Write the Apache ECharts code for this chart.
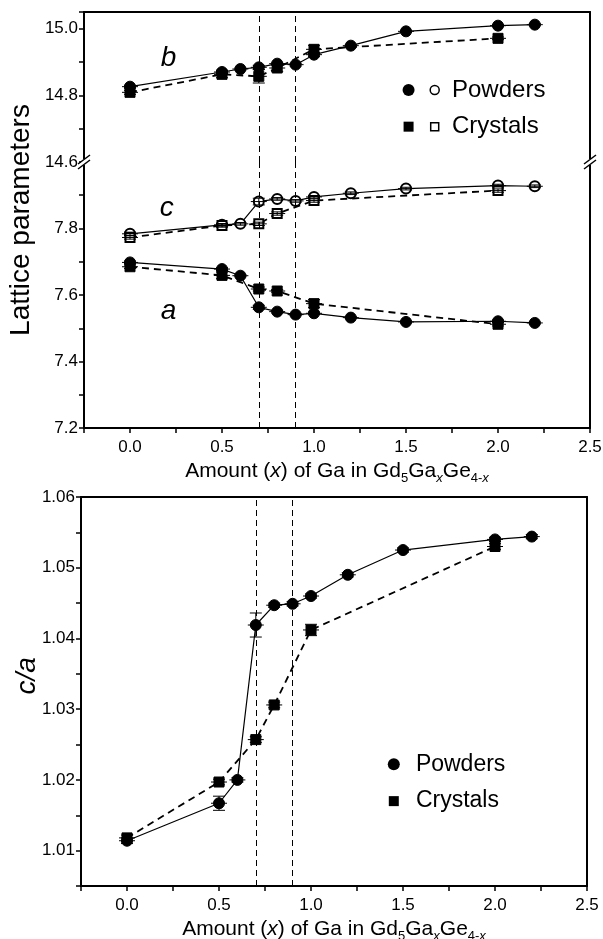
<!DOCTYPE html>
<html>
<head>
<meta charset="utf-8">
<script src="https://cdn.jsdelivr.net/npm/echarts@6/dist/echarts.min.js"></script>
<style>
  html, body { margin: 0; padding: 0; background: #fff; }
  #chart { width: 603px; height: 939px; }
</style>
</head>
<body>
<div id="chart"></div>
<script>
// x values (amount of Ga)
var xPowder = [0, 0.5, 0.6, 0.7, 0.8, 0.9, 1.0, 1.2, 1.5, 2.0, 2.2];
var xCrystal = [0, 0.5, 0.7, 0.8, 1.0, 2.0];

// lattice parameter b
var bPowder = [14.826, 14.870, 14.879, 14.884, 14.895, 14.892, 14.922, 14.949, 14.992, 15.009, 15.012];
var bPowderErr = [0.004, 0.004, 0.003, 0.006, 0.004, 0.004, 0.006, 0.003, 0.003, 0.003, 0.003];
var bCrystal = [14.809, 14.863, 14.857, 14.882, 14.938, 14.971];
var bCrystalErr = [0.006, 0.010, 0.020, 0.010, 0.012, 0.004];

// lattice parameter c
var cPowder = [7.784, 7.811, 7.814, 7.881, 7.889, 7.883, 7.895, 7.906, 7.920, 7.929, 7.927];
var cPowderErr = [0.005, 0.004, 0.004, 0.010, 0.004, 0.004, 0.004, 0.004, 0.004, 0.004, 0.004];
var cCrystal = [7.773, 7.809, 7.814, 7.845, 7.884, 7.914];
var cCrystalErr = [0.005, 0.005, 0.005, 0.005, 0.005, 0.005];

// lattice parameter a
var aPowder = [7.698, 7.678, 7.658, 7.563, 7.550, 7.541, 7.545, 7.532, 7.519, 7.521, 7.516];
var aPowderErr = [0.004, 0.004, 0.003, 0.006, 0.004, 0.003, 0.004, 0.003, 0.003, 0.003, 0.003];
var aCrystal = [7.685, 7.659, 7.618, 7.612, 7.574, 7.512];
var aCrystalErr = [0.005, 0.010, 0.006, 0.004, 0.012, 0.005];

// c/a ratio
var caPowder = [1.0114, 1.0167, 1.0200, 1.0419, 1.0447, 1.0449, 1.0460, 1.0490, 1.0525, 1.0540, 1.0544];
var caPowderErr = [0.0004, 0.0010, 0.0003, 0.0017, 0.0003, 0.0003, 0.0003, 0.0003, 0.0003, 0.0003, 0.0003];
var caCrystal = [1.0118, 1.0197, 1.0257, 1.0306, 1.0412, 1.0530];
var caCrystalErr = [0.0004, 0.0004, 0.0004, 0.0004, 0.0008, 0.0004];

// transition boundaries
var boundaries = [0.7, 0.9];

var FONT = "'Liberation Sans', Arial, sans-serif";
var TOP_LEFT = 84, TOP_RIGHT = 13;
var TOP_Y = 12, SPLIT_Y = 162, TOP_AXIS_Y = 428;
var BOT_Y = 497, BOT_AXIS_Y = 886;

function pairs(xs, ys) {
    return xs.map(function (x, i) { return [x, ys[i]]; });
}
function triples(xs, ys, es) {
    return xs.map(function (x, i) { return [x, ys[i], es[i]]; });
}

// error bars: vertical bar with caps plus short horizontal bar
function renderErr(params, api) {
    var x = api.value(0), y = api.value(1), e = api.value(2);
    var top = api.coord([x, y + e]);
    var bot = api.coord([x, y - e]);
    var mid = api.coord([x, y]);
    var cw = 6, hw = 8;
    var st = { stroke: '#000', lineWidth: 1 };
    return {
        type: 'group',
        children: [
            { type: 'line', shape: { x1: top[0], y1: top[1], x2: bot[0], y2: bot[1] }, style: st },
            { type: 'line', shape: { x1: top[0] - cw, y1: top[1], x2: top[0] + cw, y2: top[1] }, style: st },
            { type: 'line', shape: { x1: bot[0] - cw, y1: bot[1], x2: bot[0] + cw, y2: bot[1] }, style: st },
            { type: 'line', shape: { x1: mid[0] - hw, y1: mid[1], x2: mid[0] + hw, y2: mid[1] }, style: st }
        ]
    };
}

function errSeries(xi, yi, data) {
    return {
        type: 'custom', xAxisIndex: xi, yAxisIndex: yi, z: 5,
        renderItem: renderErr, data: data, silent: true, clip: false
    };
}

function lineSeries(xi, yi, data, symbol, size, dashed) {
    return {
        type: 'line', xAxisIndex: xi, yAxisIndex: yi, data: data,
        symbol: symbol, symbolSize: size, showAllSymbol: true,
        lineStyle: { color: '#000', width: dashed ? 1.8 : 1.2, type: dashed ? [7, 5] : 'solid' },
        itemStyle: { color: '#000', borderColor: '#000', borderWidth: 1 },
        z: 3, silent: true, animation: false
    };
}

function boundarySeries(xi, yi) {
    return {
        type: 'line', xAxisIndex: xi, yAxisIndex: yi, data: [], silent: true,
        markLine: {
            symbol: 'none', silent: true, animation: false,
            label: { show: false },
            lineStyle: { color: '#000', width: 1, type: [6, 4] },
            data: boundaries.map(function (v) { return { xAxis: v }; })
        }
    };
}

var tickLabel = { color: '#000', fontSize: 17, fontFamily: FONT };
var xName = '{n|Amount (}{i|x}{n|) of Ga in Gd}{s|5}{n|Ga}{si|x}{n|Ge}{s|4-}{si|x}';
var xNameStyle = {
    rich: {
        n: { fontSize: 21, fontFamily: FONT, color: '#000', lineHeight: 28, verticalAlign: 'middle' },
        i: { fontSize: 21, fontFamily: FONT, fontStyle: 'italic', color: '#000', lineHeight: 28, verticalAlign: 'middle' },
        s: { fontSize: 13, fontFamily: FONT, color: '#000', lineHeight: 12, verticalAlign: 'bottom' },
        si: { fontSize: 13, fontFamily: FONT, fontStyle: 'italic', color: '#000', lineHeight: 12, verticalAlign: 'bottom' }
    }
};

function xAxisLabelled(gi) {
    return {
        type: 'value', gridIndex: gi, position: 'bottom', min: -0.25, max: 2.5, interval: 0.25,
        axisLine: { onZero: false, lineStyle: { color: '#000', width: 2 } },
        axisTick: { show: true, length: 5, lineStyle: { color: '#000', width: 1.5 } },
        axisLabel: Object.assign({
            showMinLabel: true, showMaxLabel: true, hideOverlap: false, margin: 11,
            formatter: function (v) {
                var k = v / 0.5;
                return Math.abs(k - Math.round(k)) < 1e-6 ? v.toFixed(1) : '';
            }
        }, tickLabel),
        splitLine: { show: false },
        name: xName, nameLocation: 'middle', nameGap: 29, nameTextStyle: xNameStyle
    };
}
function xAxisFrame(gi) {
    return {
        type: 'value', gridIndex: gi, position: 'top', min: -0.25, max: 2.5,
        axisLine: { onZero: false, lineStyle: { color: '#000', width: 2 } },
        axisTick: { show: false }, axisLabel: { show: false }, splitLine: { show: false }
    };
}
function yAxisLeft(gi, min, max, interval, step, minor, fmt) {
    return {
        type: 'value', gridIndex: gi, position: 'left', min: min, max: max, interval: interval,
        axisLine: { onZero: false, lineStyle: { color: '#000', width: 2 } },
        axisTick: { show: true, length: 5, lineStyle: { color: '#000', width: 1.5 } },
        minorTick: { show: minor, splitNumber: 2, length: 5, lineStyle: { color: '#000', width: 1.5 } },
        axisLabel: Object.assign({
            hideOverlap: false, margin: 6,
            formatter: function (v) {
                var k = v / step;
                return Math.abs(k - Math.round(k)) < 1e-6 ? fmt(v) : '';
            }
        }, tickLabel),
        splitLine: { show: false }
    };
}
function yAxisRight(gi, min, max) {
    return {
        type: 'value', gridIndex: gi, position: 'right', min: min, max: max,
        axisLine: { onZero: false, lineStyle: { color: '#000', width: 2 } },
        axisTick: { show: false }, axisLabel: { show: false }, splitLine: { show: false }
    };
}

var chart = echarts.init(document.getElementById('chart'), null, { renderer: 'canvas' });

chart.setOption({
    animation: false,
    backgroundColor: '#fff',
    grid: [
        { left: TOP_LEFT, right: TOP_RIGHT, top: TOP_Y, height: SPLIT_Y - TOP_Y, outerBoundsMode: 'none' },
        { left: TOP_LEFT, right: TOP_RIGHT, top: SPLIT_Y, height: TOP_AXIS_Y - SPLIT_Y, outerBoundsMode: 'none' },
        { left: 81, right: 16, top: BOT_Y, height: BOT_AXIS_Y - BOT_Y, outerBoundsMode: 'none' }
    ],
    xAxis: [
        xAxisFrame(0),
        xAxisLabelled(1),
        xAxisLabelled(2),
        xAxisFrame(2)
    ],
    yAxis: [
        yAxisLeft(0, 14.6, 15.05, 0.2, 0.2, true, function (v) { return v.toFixed(1); }),
        yAxisRight(0, 14.6, 15.05),
        yAxisLeft(1, 7.2, 8.0, 0.2, 0.2, true, function (v) { return v > 7.95 ? '' : v.toFixed(1); }),
        yAxisRight(1, 7.2, 8.0),
        yAxisLeft(2, 1.005, 1.06, 0.005, 0.01, false, function (v) { return v.toFixed(2); }),
        yAxisRight(2, 1.005, 1.06)
    ],
    series: [
        boundarySeries(0, 0),
        boundarySeries(1, 2),
        boundarySeries(2, 4),

        lineSeries(0, 0, pairs(xPowder, bPowder), 'circle', 11, false),
        lineSeries(0, 0, pairs(xCrystal, bCrystal), 'rect', 10, true),
        errSeries(0, 0, triples(xPowder, bPowder, bPowderErr)),
        errSeries(0, 0, triples(xCrystal, bCrystal, bCrystalErr)),

        lineSeries(1, 2, pairs(xPowder, cPowder), 'emptyCircle', 10, false),
        lineSeries(1, 2, pairs(xCrystal, cCrystal), 'emptyRect', 9, true),
        errSeries(1, 2, triples(xPowder, cPowder, cPowderErr)),
        errSeries(1, 2, triples(xCrystal, cCrystal, cCrystalErr)),

        lineSeries(1, 2, pairs(xPowder, aPowder), 'circle', 11, false),
        lineSeries(1, 2, pairs(xCrystal, aCrystal), 'rect', 10, true),
        errSeries(1, 2, triples(xPowder, aPowder, aPowderErr)),
        errSeries(1, 2, triples(xCrystal, aCrystal, aCrystalErr)),

        lineSeries(2, 4, pairs(xPowder, caPowder), 'circle', 11, false),
        lineSeries(2, 4, pairs(xCrystal, caCrystal), 'rect', 10, true),
        errSeries(2, 4, triples(xPowder, caPowder, caPowderErr)),
        errSeries(2, 4, triples(xCrystal, caCrystal, caCrystalErr))
    ]
});

// annotations placed in data coordinates
function px(gi, pt) { return chart.convertToPixel({ gridIndex: gi }, pt); }

var g = [];
function italicLabel(gi, pt, txt) {
    var p = px(gi, pt);
    g.push({ type: 'text', x: p[0], y: p[1], z: 10,
        style: { text: txt, font: 'italic 28px ' + FONT, fill: '#000', align: 'center', verticalAlign: 'middle' } });
}
italicLabel(0, [0.21, 14.91], 'b');
italicLabel(1, [0.2, 7.862], 'c');
italicLabel(1, [0.21, 7.55], 'a');

function legendText(p, txt, size) {
    g.push({ type: 'text', x: p[0], y: p[1], z: 10,
        style: { text: txt, font: size + 'px ' + FONT, fill: '#000', align: 'left', verticalAlign: 'middle' } });
}
// top panel legend
var lp1 = px(0, [1.514, 14.816]), lp2 = px(0, [1.656, 14.816]), lp3 = px(0, [1.75, 14.816]);
g.push({ type: 'circle', shape: { cx: lp1[0], cy: lp1[1], r: 6 }, style: { fill: '#000' }, z: 10 });
g.push({ type: 'circle', shape: { cx: lp2[0], cy: lp2[1], r: 4.5 }, style: { fill: '#fff', stroke: '#000', lineWidth: 1.5 }, z: 10 });
legendText(lp3, 'Powders', 24);
var lc1 = px(0, [1.514, 14.706]), lc2 = px(0, [1.656, 14.706]), lc3 = px(0, [1.75, 14.706]);
g.push({ type: 'rect', shape: { x: lc1[0] - 5, y: lc1[1] - 5, width: 10, height: 10 }, style: { fill: '#000' }, z: 10 });
g.push({ type: 'rect', shape: { x: lc2[0] - 4, y: lc2[1] - 4, width: 8, height: 8 }, style: { fill: '#fff', stroke: '#000', lineWidth: 1.5 }, z: 10 });
legendText(lc3, 'Crystals', 24);

// bottom panel legend
var bp1 = px(2, [1.45, 1.0222]), bp2 = px(2, [1.57, 1.0222]);
g.push({ type: 'circle', shape: { cx: bp1[0], cy: bp1[1], r: 6 }, style: { fill: '#000' }, z: 10 });
legendText(bp2, 'Powders', 23);
var bc1 = px(2, [1.45, 1.0170]), bc2 = px(2, [1.57, 1.0170]);
g.push({ type: 'rect', shape: { x: bc1[0] - 5, y: bc1[1] - 5, width: 10, height: 10 }, style: { fill: '#000' }, z: 10 });
legendText(bc2, 'Crystals', 23);

// axis titles
g.push({ type: 'text', x: 21, y: (TOP_Y + TOP_AXIS_Y) / 2, rotation: Math.PI / 2, z: 10,
    style: { text: 'Lattice parameters', font: '28px ' + FONT, fill: '#000', align: 'center', verticalAlign: 'middle' } });
var caPos = px(2, [0, 1.0347]);
g.push({ type: 'text', x: 27, y: caPos[1], rotation: Math.PI / 2, z: 10,
    style: { text: 'c/a', font: 'italic 28px ' + FONT, fill: '#000', align: 'center', verticalAlign: 'middle' } });

// axis break marks
function breakMark(x) {
    g.push({ type: 'rect', shape: { x: x - 3, y: SPLIT_Y - 3, width: 6, height: 6 }, style: { fill: '#fff' }, z: 20 });
    g.push({ type: 'line', shape: { x1: x - 6, y1: SPLIT_Y + 2, x2: x + 6, y2: SPLIT_Y - 7 }, style: { stroke: '#000', lineWidth: 1.5 }, z: 21 });
    g.push({ type: 'line', shape: { x1: x - 6, y1: SPLIT_Y + 7, x2: x + 6, y2: SPLIT_Y - 2 }, style: { stroke: '#000', lineWidth: 1.5 }, z: 21 });
}
breakMark(TOP_LEFT);
breakMark(603 - TOP_RIGHT);

chart.setOption({ graphic: g });
</script>
</body>
</html>
